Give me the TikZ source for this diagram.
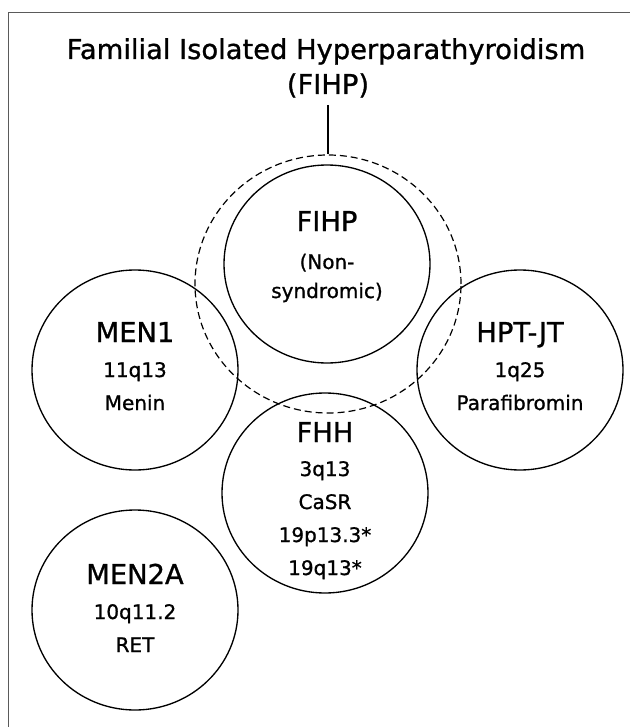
\documentclass[tikz,border=0pt]{standalone}
\usepackage{fontspec}
\setmainfont{DejaVu Sans}[FakeBold=1]
\usetikzlibrary{shapes.geometric}
\begin{document}
\begin{tikzpicture}[x=0.75pt,y=0.75pt,yscale=-1,xscale=1,
  ring/.style={draw, ellipse, line width=1pt, inner sep=0pt, minimum width=154.5pt, minimum height=150pt},
  head/.style={anchor=base, inner sep=0pt, font=\fontsize{20.5}{24}\selectfont},
  gene/.style={anchor=base, inner sep=0pt, font=\fontsize{15}{18}\selectfont}]
\path[use as bounding box] (0,0) rectangle (630,727);

%Frame
\draw [color={rgb, 255:red, 90; green, 90; blue, 90 }] (8,727) -- (8,12.5) -- (630,12.5) ;

% Title
\node [head] (title) at (326,59) {Familial Isolated Hyperparathyroidism};
\node [head] (abbr) at (328,94) {(FIHP)};

%Shape: Dashed ellipse (all FIHP)
\node [ring, dash pattern=on 5.25pt off 3pt, line width=0.9pt, minimum width=199.5pt, minimum height=193.5pt] (allfihp) at (328,284) {};
%Straight Lines
\coordinate (linetop) at (328,105);
\draw [line width=1pt] (linetop) -- (allfihp.north) ;

%Shape: Circle
\node [ring, minimum height=148.5pt] (fihp) at (327,264) {};
\node [head] (fihpt) at (327,231) {FIHP};
\node [gene] (fihpa) at (327,269) {(Non-};
\node [gene] (fihpb) at (327,298) {syndromic)};

%Shape: Circle
\node [ring] (men1) at (135,370) {};
\node [head] (men1t) at (135,342) {MEN1};
\node [gene] (men1a) at (135,377) {11q13};
\node [gene] (men1b) at (135,410) {Menin};

%Shape: Circle
\node [ring] (hptjt) at (520,370) {};
\node [head] (hptjtt) at (520,342) {HPT-JT};
\node [gene] (hptjta) at (520,377) {1q25};
\node [gene] (hptjtb) at (520,410) {Parafibromin};

%Shape: Circle
\node [ring] (fhh) at (325,493) {};
\node [head] (fhht) at (325,442) {FHH};
\node [gene] (fhha) at (325,476) {3q13};
\node [gene] (fhhb) at (325,509) {CaSR};
\node [gene] (fhhc) at (325,542) {19p13.3*};
\node [gene] (fhhd) at (325,575) {19q13*};

%Shape: Circle
\node [ring] (men2a) at (135,610) {};
\node [head] (men2at) at (135,584) {MEN2A};
\node [gene] (men2aa) at (135,619) {10q11.2};
\node [gene] (men2ab) at (135,652) {RET};

\end{tikzpicture}
\end{document}
